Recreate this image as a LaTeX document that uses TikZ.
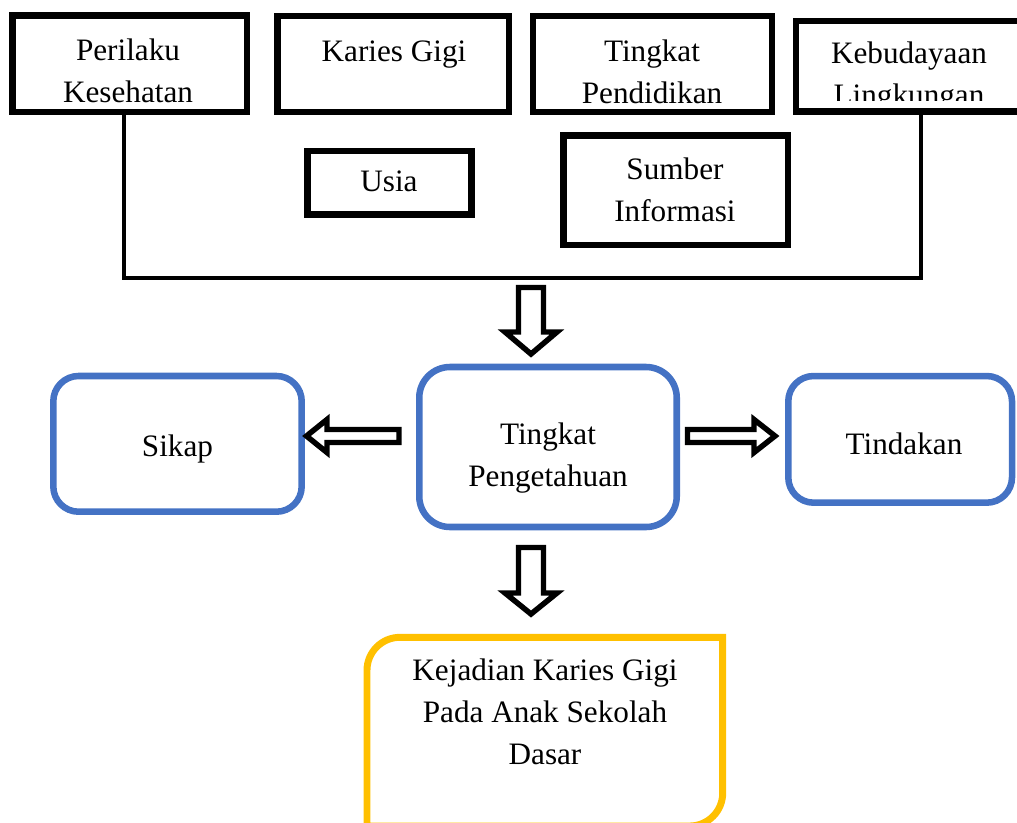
\documentclass[tikz,border=0pt]{standalone}
\usepackage{fontspec}
\setmainfont{Liberation Serif}
\definecolor{wordblue}{HTML}{4472C4}
\definecolor{wordgold}{HTML}{FFC000}

\tikzset{every picture/.style={line width=0.75pt}}
\tikzset{
  blackbox/.style={draw, line width=4.9pt, inner sep=0pt},
  bluebox/.style={draw=wordblue, line width=4.9pt, inner sep=0pt, rounded corners=19pt},
  goldline/.style={draw=wordgold, line width=5.2pt},
  joinline/.style={line width=3.4pt},
  blockarrow/.style={draw, fill=white, line width=4.1pt},
  lbl/.style={align=center, inner sep=0pt, font=\fontsize{23.4}{31.5}\selectfont}
}

\begin{document}
\begin{tikzpicture}[x=0.75pt,y=0.75pt,yscale=-1,xscale=1]
\useasboundingbox (0,0) rectangle (1017,822);

% top row of factors
\node [blackbox, minimum width=175.9pt, minimum height=72.4pt] (perilaku) at (129.75,63.75) {};
\node [blackbox, minimum width=173.6pt, minimum height=72pt] (karies) at (393.25,64) {};
\node [blackbox, minimum width=179.25pt, minimum height=72pt] (pendidikan) at (652.5,64) {};
\node [blackbox, minimum width=183pt, minimum height=67.9pt] (kebudayaan) at (918,66.25) {};
\node [blackbox, minimum width=123pt, minimum height=47.8pt] (usia) at (389.5,182.85) {};
\node [blackbox, minimum width=168.5pt, minimum height=82pt] (sumber) at (675.65,190.35) {};

\draw (128,71) node [lbl] (perilakuTxt) {Perilaku\\Kesehatan};
\draw (394,55) node [lbl] (kariesTxt) {Karies Gigi};
\draw (652,71.5) node [lbl] (pendidikanTxt) {Tingkat\\Pendidikan};
\begin{scope}
\clip (799,24) rectangle (1017,100);
\draw (909,77) node [lbl] (kebudayaanTxt) {Kebudayaan\\Lingkungan};
\end{scope}
\draw (389,181) node [lbl] (usiaTxt) {Usia};
\draw (675,190) node [lbl] (sumberTxt) {Sumber\\Informasi};

% bracket joining the factors
\coordinate (joinL) at (124,278);
\coordinate (joinR) at (921,278);
\draw [joinline] (joinL |- perilaku.south) -- (joinL) -- (joinR) -- (joinR |- kebudayaan.south);

% middle row
\node [bluebox, minimum width=186.3pt, minimum height=101.8pt] (sikap) at (177.5,443.85) {};
\node [bluebox, rounded corners=23pt, minimum width=193.1pt, minimum height=120pt] (pengetahuan) at (548,447) {};
\node [bluebox, minimum width=167.8pt, minimum height=95pt] (tindakan) at (900.15,439.35) {};

\draw (177.5,449) node [lbl] (sikapTxt) {Sikap};
\draw (548,458) node [lbl] (pengetahuanTxt) {Tingkat\\Pengetahuan};
\draw (904,444) node [lbl] (tindakanTxt) {Tindakan};

% outcome
\draw [goldline] (367,826) -- (367,670.3) arc (180:270:33) -- (722.7,637.3) -- (722.7,793) arc (0:90:33) -- cycle;
\draw (545,712) node [lbl] (kejadianTxt) {Kejadian Karies Gigi\\Pada Anak Sekolah\\Dasar};

% block arrows
\draw [blockarrow] (518.5,287.5) -- (543.5,287.5) -- (543.5,332) -- (557,332) -- (531,354) -- (505,332) -- (518.5,332) -- cycle;
\draw [blockarrow] (399,429.5) -- (399,442.5) -- (327,442.5) -- (327,452.5) -- (306.5,436) -- (327,419.5) -- (327,429.5) -- cycle;
\draw [blockarrow] (687.5,429.5) -- (754,429.5) -- (754,419.5) -- (775,436) -- (754,452.5) -- (754,442.5) -- (687.5,442.5) -- cycle;
\draw [blockarrow] (518.5,547.5) -- (543.5,547.5) -- (543.5,593) -- (557,593) -- (531,614) -- (505,593) -- (518.5,593) -- cycle;

\end{tikzpicture}
\end{document}
